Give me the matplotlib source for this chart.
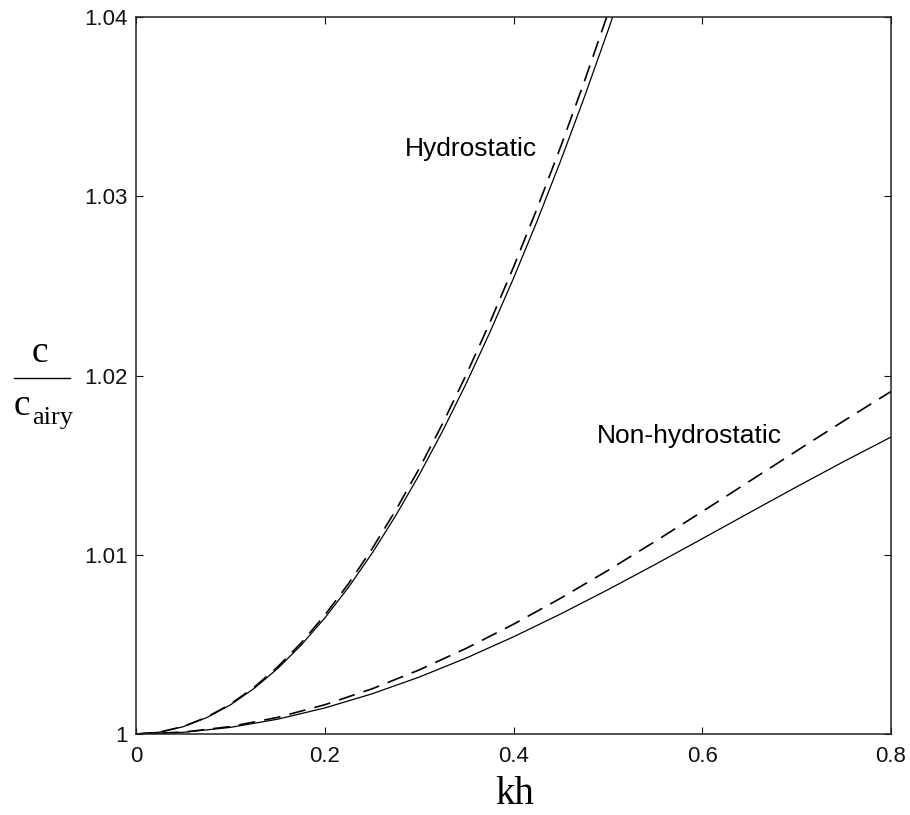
import matplotlib
matplotlib.use("Agg")
import matplotlib.pyplot as plt
from matplotlib.lines import Line2D

# ---- data ----
kh_hyd = [0.0, 0.025, 0.05, 0.075, 0.1, 0.125, 0.15, 0.175, 0.2, 0.225, 0.25,
          0.275, 0.3, 0.325, 0.35, 0.375, 0.4, 0.425, 0.45, 0.475, 0.5, 0.525]
hyd_dashed = [1.0, 1.000104, 1.000416, 1.000937, 1.001664, 1.002598, 1.003737,
              1.005081, 1.006627, 1.008374, 1.010320, 1.012463, 1.014801,
              1.017331, 1.020051, 1.022958, 1.026048, 1.029319, 1.032768,
              1.036391, 1.040186, 1.044147]
hyd_solid = [1.0, 1.000102, 1.000406, 1.000915, 1.001624, 1.002536, 1.003647,
             1.004959, 1.006468, 1.008173, 1.010072, 1.012164, 1.014446,
             1.016915, 1.019570, 1.022407, 1.025423, 1.028615, 1.031982,
             1.035518, 1.039222, 1.043087]

kh_nh = [0.0, 0.05, 0.1, 0.15, 0.2, 0.25, 0.3, 0.35, 0.4, 0.45, 0.5,
         0.55, 0.6, 0.65, 0.7, 0.75, 0.8]
nh_dashed = [1.0, 1.000104, 1.000414, 1.000926, 1.001631, 1.002518, 1.003574,
             1.004781, 1.006123, 1.007577, 1.009124, 1.010742, 1.012407,
             1.014098, 1.015793, 1.017469, 1.019107]
nh_solid = [1.0, 1.000093, 1.000369, 1.000825, 1.001452, 1.002239, 1.003174,
            1.004240, 1.005421, 1.006698, 1.008049, 1.009455, 1.010895,
            1.012347, 1.013789, 1.015201, 1.016567]

x_ticks = [0, 0.2, 0.4, 0.6, 0.8]
x_tick_labels = ["0", "0.2", "0.4", "0.6", "0.8"]
y_ticks = [1.0, 1.01, 1.02, 1.03, 1.04]
y_tick_labels = ["1", "1.01", "1.02", "1.03", "1.04"]

W, H = 910, 815
fig = plt.figure(figsize=(W / 100, H / 100), dpi=100)
ax = fig.add_axes([136 / W, 1 - 734 / H, 755 / W, 717 / H])

ax.plot(kh_hyd, hyd_solid, color="black", lw=0.9)
ax.plot(kh_hyd, hyd_dashed, color="black", lw=1.2, dashes=(10, 5.5))
ax.plot(kh_nh, nh_solid, color="black", lw=0.9)
ax.plot(kh_nh, nh_dashed, color="black", lw=1.2, dashes=(10, 5.5))

ax.set_xlim(0, 0.8)
ax.set_ylim(1.0, 1.04)
ax.set_xticks(x_ticks)
ax.set_xticklabels(x_tick_labels)
ax.set_yticks(y_ticks)
ax.set_yticklabels(y_tick_labels)

sans = "Liberation Sans"
serif = "Liberation Serif"
ax.tick_params(direction="in", top=True, right=True, length=5, width=0.8,
               labelsize=16, colors="#111111")
ax.tick_params(axis="x", pad=9)
ax.tick_params(axis="y", pad=6)
for lab in ax.get_xticklabels() + ax.get_yticklabels():
    lab.set_fontfamily(sans)
for sp in ax.spines.values():
    sp.set_linewidth(1.1)
    sp.set_color("#222222")

ax.text(0.285, 1.03225, "Hydrostatic", fontsize=19, family=sans,
        ha="left", va="baseline")
ax.text(0.4885, 1.01623, "Non-hydrostatic", fontsize=19, family=sans,
        ha="left", va="baseline")

# x label
fig.text(515 / W, 1 - 804 / H, "kh", fontsize=28, family=serif,
         ha="center", va="baseline")

# y label as a fraction c / c_airy
fig.text(40 / W, 1 - 362 / H, "c", fontsize=27, family=serif,
         ha="center", va="baseline")
fig.add_artist(Line2D([14 / W, 70 / W], [1 - 378 / H, 1 - 378 / H],
                      color="black", lw=1.0, transform=fig.transFigure))
fig.text(14 / W, 1 - 415 / H, "c", fontsize=27, family=serif,
         ha="left", va="baseline")
fig.text(32 / W, 1 - 424 / H, "airy", fontsize=19, family=serif,
         ha="left", va="baseline")

fig.savefig("out.png", dpi=100)
